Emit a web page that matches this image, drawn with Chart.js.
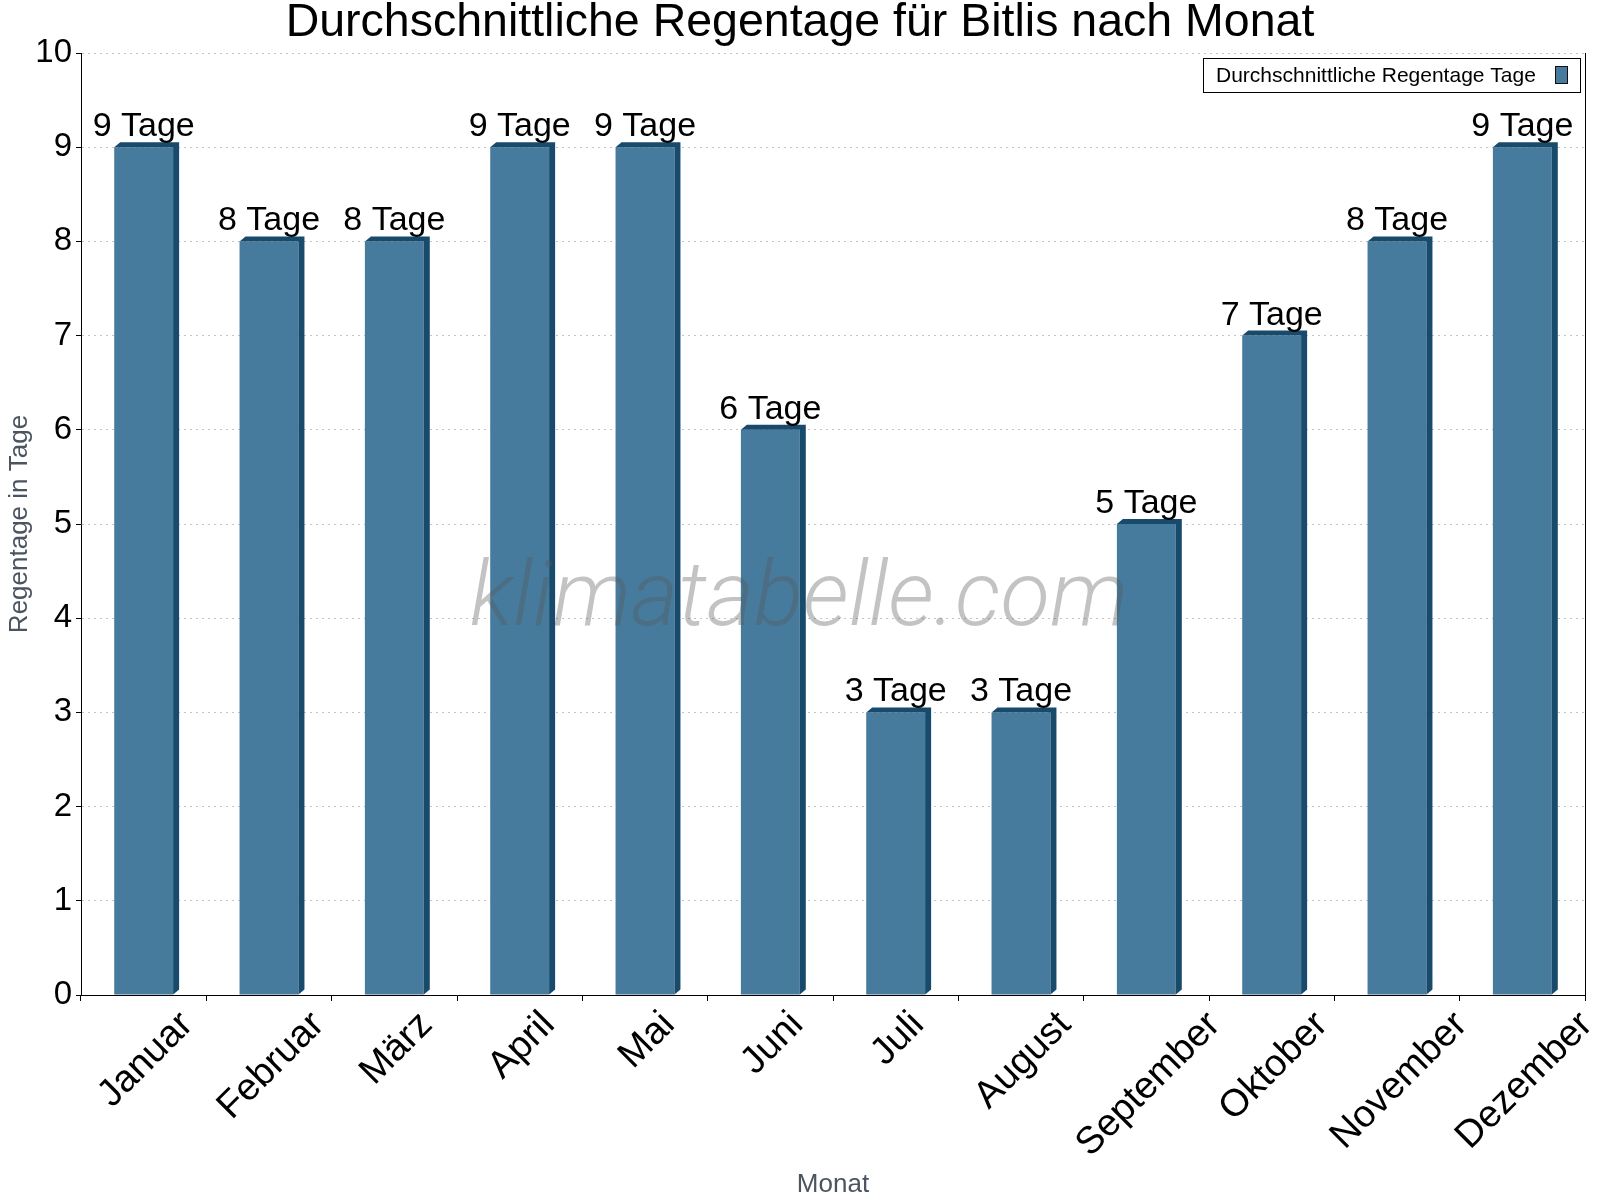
<!DOCTYPE html>
<html>
<head>
<meta charset="utf-8">
<script src="https://cdn.jsdelivr.net/npm/chart.js@4.4.1/dist/chart.umd.min.js"></script>
<style>
  html, body { margin: 0; padding: 0; background: #fff; }
</style>
</head>
<body>
<canvas id="id-canva" width="1600" height="1200"></canvas>
<script>
// Daten
const monate = ["Januar", "Februar", "März", "April", "Mai", "Juni", "Juli", "August", "September", "Oktober", "November", "Dezember"];
const regentage = [9, 8, 8, 9, 9, 6, 3, 3, 5, 7, 8, 9];
const einheit = "Tage";
const serienName = "Durchschnittliche Regentage Tage";
const titel = "Durchschnittliche Regentage für Bitlis nach Monat";

const schrift = '"Liberation Sans", Arial, sans-serif';
const farbeVorne = "#467b9d";
const farbeSeite = "#184a6c";

// 3D Seite + Deckel der Balken
const balken3d = {
    id: "balken3d",
    afterDatasetsDraw(chart) {
        const ctx = chart.ctx;
        const dx = 6, dy = 5;
        ctx.save();
        ctx.fillStyle = farbeSeite;
        chart.getDatasetMeta(0).data.forEach(bar => {
            const { x, y, base, width } = bar.getProps(["x", "y", "base", "width"], true);
            const l = x - width / 2, r = x + width / 2;
            ctx.beginPath();
            ctx.moveTo(l, y);
            ctx.lineTo(l + dx, y - dy);
            ctx.lineTo(r + dx, y - dy);
            ctx.lineTo(r + dx, base - dy);
            ctx.lineTo(r, base);
            ctx.lineTo(r, y);
            ctx.closePath();
            ctx.fill();
        });
        ctx.restore();
    }
};

// Titel, Beschriftungen, Legende, Wasserzeichen
const extras = {
    id: "extras",
    afterDraw(chart) {
        const { ctx, chartArea, scales } = chart;
        ctx.save();

        // Titel (ueber die ganze Breite zentriert)
        ctx.fillStyle = "#000";
        ctx.font = "46.5px " + schrift;
        ctx.textAlign = "center";
        ctx.textBaseline = "alphabetic";
        ctx.fillText(titel, chart.width / 2, 36);

        // rechter Rahmen
        ctx.strokeStyle = "#000";
        ctx.lineWidth = 1;
        ctx.beginPath();
        ctx.moveTo(Math.round(chartArea.right) + 0.5, chartArea.top);
        ctx.lineTo(Math.round(chartArea.right) + 0.5, chartArea.bottom);
        ctx.stroke();

        // Werte ueber den Balken
        ctx.font = "34px " + schrift;
        chart.getDatasetMeta(0).data.forEach((bar, i) => {
            ctx.fillText(regentage[i] + " " + einheit, bar.x, bar.y - 11);
        });

        // x Beschriftung, 45 Grad gedreht
        const gr = 38;
        ctx.font = gr + "px " + schrift;
        monate.forEach((m, i) => {
            const px = scales.x.getPixelForValue(i);
            const w = ctx.measureText(m).width;
            const h = gr * 0.72;
            const seite = (w + h) * Math.SQRT1_2;
            ctx.save();
            ctx.translate(px, scales.x.top + 12 + seite / 2);
            ctx.rotate(-Math.PI / 4);
            ctx.textAlign = "center";
            ctx.fillText(m, 0, h / 2);
            ctx.restore();
        });

        // Legende
        ctx.fillStyle = "#fff";
        ctx.fillRect(1203.5, 58.5, 377, 34);
        ctx.strokeStyle = "#000";
        ctx.strokeRect(1203.5, 58.5, 377, 34);
        ctx.fillStyle = "#000";
        ctx.font = "21px " + schrift;
        ctx.textAlign = "left";
        ctx.fillText(serienName, 1216, 82);
        ctx.fillStyle = farbeVorne;
        ctx.fillRect(1555.5, 66.5, 12, 17);
        ctx.strokeStyle = "#111";
        ctx.strokeRect(1555.5, 66.5, 12, 17);

        // Wasserzeichen
        ctx.fillStyle = "rgba(90, 90, 90, 0.36)";
        ctx.font = 'italic 300 91px Roboto, "Open Sans", sans-serif';
        ctx.textAlign = "center";
        ctx.fillText("klimatabelle.com", 799, 625);

        ctx.restore();
    }
};

const ctx = document.getElementById("id-canva");

new Chart(ctx, {
    type: "bar",
    data: {
        labels: monate,
        datasets: [
            {
                label: serienName,
                data: regentage,
                backgroundColor: farbeVorne,
                borderWidth: 0,
                categoryPercentage: 1,
                barPercentage: 0.47
            }
        ]
    },
    plugins: [balken3d, extras],
    options: {
        responsive: false,
        animation: false,
        layout: { padding: { left: 0, right: 15, top: 53, bottom: 0 } },
        plugins: {
            legend: { display: false },
            tooltip: { enabled: false },
            title: { display: false }
        },
        scales: {
            x: {
                grid: { display: true, drawOnChartArea: false, drawTicks: true, tickLength: 6, color: "#000" },
                border: { display: true, color: "#000", width: 1 },
                ticks: { display: false },
                title: {
                    display: true,
                    text: "Monat",
                    color: "#4b5560",
                    font: { family: schrift, size: 26 },
                    padding: { top: 0, bottom: 0 }
                },
                afterFit: s => { s.height = 205; }
            },
            y: {
                min: 0,
                max: 10,
                ticks: {
                    stepSize: 1,
                    color: "#000",
                    padding: 4,
                    font: { family: schrift, size: 33 }
                },
                grid: { color: "#c4c4c4", tickColor: "#000", tickLength: 5 },
                border: { display: true, color: "#000", width: 1, dash: [2, 4] },
                title: {
                    display: true,
                    text: "Regentage in Tage",
                    color: "#4b5560",
                    font: { family: schrift, size: 26 },
                    padding: { top: 4, bottom: 0 }
                },
                afterFit: s => { s.width = 81; }
            }
        }
    }
});
</script>
</body>
</html>
